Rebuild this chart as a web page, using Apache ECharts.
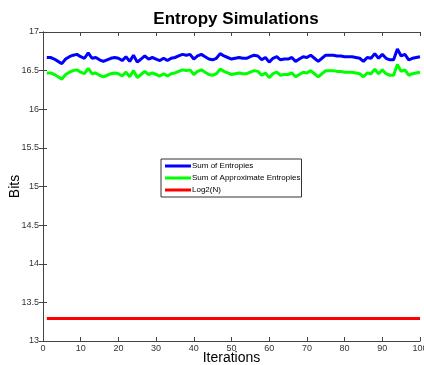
<!DOCTYPE html>
<html>
<head>
<meta charset="utf-8">
<script src="https://cdn.jsdelivr.net/npm/echarts@6/dist/echarts.min.js"></script>
<style>
  html, body { margin: 0; padding: 0; background: #fff; }
  #chart { width: 424px; height: 365px; }
</style>
</head>
<body>
<div id="chart"></div>
<script>
// values, iterations 1..100
const sumEntropies = [
  16.67, 16.67, 16.65, 16.62, 16.59, 16.65, 16.68, 16.70, 16.71, 16.68,
  16.66, 16.73, 16.66, 16.67, 16.64, 16.62, 16.64, 16.66, 16.67, 16.66,
  16.63, 16.68, 16.62, 16.70, 16.61, 16.65, 16.69, 16.65, 16.67, 16.65,
  16.63, 16.66, 16.63, 16.66, 16.67, 16.69, 16.71, 16.70, 16.71, 16.65,
  16.69, 16.71, 16.68, 16.65, 16.64, 16.66, 16.72, 16.69, 16.67, 16.65,
  16.66, 16.67, 16.66, 16.66, 16.68, 16.70, 16.69, 16.64, 16.67, 16.61,
  16.66, 16.68, 16.64, 16.65, 16.65, 16.67, 16.62, 16.65, 16.68, 16.67,
  16.70, 16.66, 16.62, 16.66, 16.70, 16.70, 16.70, 16.69, 16.69, 16.68,
  16.68, 16.68, 16.67, 16.66, 16.62, 16.67, 16.66, 16.72, 16.66, 16.71,
  16.66, 16.64, 16.64, 16.78, 16.69, 16.71, 16.64, 16.66, 16.67, 16.68
]
const sumApproxEntropies = [
  16.47, 16.47, 16.45, 16.42, 16.39, 16.45, 16.48, 16.50, 16.51, 16.48,
  16.46, 16.53, 16.46, 16.47, 16.44, 16.42, 16.44, 16.46, 16.47, 16.46,
  16.43, 16.48, 16.42, 16.50, 16.41, 16.45, 16.49, 16.45, 16.47, 16.45,
  16.43, 16.46, 16.43, 16.46, 16.47, 16.49, 16.51, 16.50, 16.51, 16.45,
  16.49, 16.51, 16.48, 16.45, 16.44, 16.46, 16.52, 16.49, 16.47, 16.45,
  16.46, 16.47, 16.46, 16.46, 16.48, 16.50, 16.49, 16.44, 16.47, 16.41,
  16.46, 16.48, 16.44, 16.45, 16.45, 16.47, 16.42, 16.45, 16.48, 16.47,
  16.50, 16.46, 16.42, 16.46, 16.50, 16.50, 16.50, 16.49, 16.49, 16.48,
  16.48, 16.48, 16.47, 16.46, 16.42, 16.47, 16.46, 16.52, 16.46, 16.51,
  16.46, 16.44, 16.44, 16.58, 16.49, 16.51, 16.44, 16.46, 16.47, 16.48
]
const log2N = [[1, 13.29], [100, 13.29]]
const iterations = sumEntropies.map((_, i) => i + 1)

const font = 'Liberation Sans, Arial, sans-serif'
const axisColor = '#444'

const chart = echarts.init(document.getElementById('chart'))

const hiddenAxis = {
  axisLabel: { show: false },
  axisLine: { show: true, lineStyle: { color: axisColor, width: 1 } },
  axisTick: { show: true, inside: true, length: 4, lineStyle: { color: axisColor } },
  splitLine: { show: false },
}

chart.setOption({
  animation: false,
  backgroundColor: '#fff',
  title: {
    text: 'Entropy Simulations',
    left: 231,
    top: 6,
    textAlign: 'center',
    textStyle: { fontFamily: font, fontSize: 17, fontWeight: 'bold', color: '#000' },
  },
  grid: { left: 43, right: 4, top: 32, bottom: 24, outerBoundsMode: 'none', containLabel: false },
  legend: {
    orient: 'vertical',
    left: 161,
    top: 159,
    itemWidth: 26,
    itemHeight: 3,
    itemGap: 4,
    icon: 'rect',
    padding: [3, 1, 3, 4],
    backgroundColor: '#fff',
    borderColor: '#333',
    borderWidth: 1,
    borderRadius: 0,
    textStyle: { fontFamily: font, fontSize: 8, color: '#000', padding: [0, 0, 0, -4] },
    data: ['Sum of Entropies', 'Sum of Approximate Entropies', 'Log2(N)'],
  },
  xAxis: [
    {
      type: 'value',
      min: 0,
      max: 100,
      interval: 10,
      name: 'Iterations',
      nameLocation: 'middle',
      nameGap: 10,
      nameMoveOverlap: false,
      nameTextStyle: { fontFamily: font, fontSize: 14, color: '#000', verticalAlign: 'top' },
      axisLabel: { fontFamily: font, fontSize: 9, color: '#333', margin: 3 },
      axisLine: { show: true, lineStyle: { color: axisColor, width: 1 } },
      axisTick: { show: true, inside: true, length: 4, lineStyle: { color: axisColor } },
      splitLine: { show: false },
    },
    { type: 'value', position: 'top', min: 0, max: 100, interval: 10, ...hiddenAxis },
  ],
  yAxis: [
    {
      type: 'value',
      min: 13,
      max: 17,
      interval: 0.5,
      name: 'Bits',
      nameLocation: 'middle',
      nameGap: 21,
      nameMoveOverlap: false,
      nameTextStyle: { fontFamily: font, fontSize: 14, color: '#000' },
      axisLabel: { fontFamily: font, fontSize: 9, color: '#333', margin: 4 },
      axisLine: { show: true, lineStyle: { color: axisColor, width: 1 } },
      axisTick: { show: true, inside: true, length: 4, lineStyle: { color: axisColor } },
      splitLine: { show: false },
    },
    { type: 'value', position: 'right', min: 13, max: 17, interval: 0.5, ...hiddenAxis },
  ],
  series: [
    {
      name: 'Sum of Entropies',
      type: 'line',
      showSymbol: false,
      data: iterations.map((it, i) => [it, sumEntropies[i]]),
      lineStyle: { color: '#0000ff', width: 3 },
      itemStyle: { color: '#0000ff' },
    },
    {
      name: 'Sum of Approximate Entropies',
      type: 'line',
      showSymbol: false,
      data: iterations.map((it, i) => [it, sumApproxEntropies[i]]),
      lineStyle: { color: '#00ff00', width: 3 },
      itemStyle: { color: '#00ff00' },
    },
    {
      name: 'Log2(N)',
      type: 'line',
      showSymbol: false,
      data: log2N,
      lineStyle: { color: '#ff0000', width: 3 },
      itemStyle: { color: '#ff0000' },
    },
  ],
})
</script>
</body>
</html>
